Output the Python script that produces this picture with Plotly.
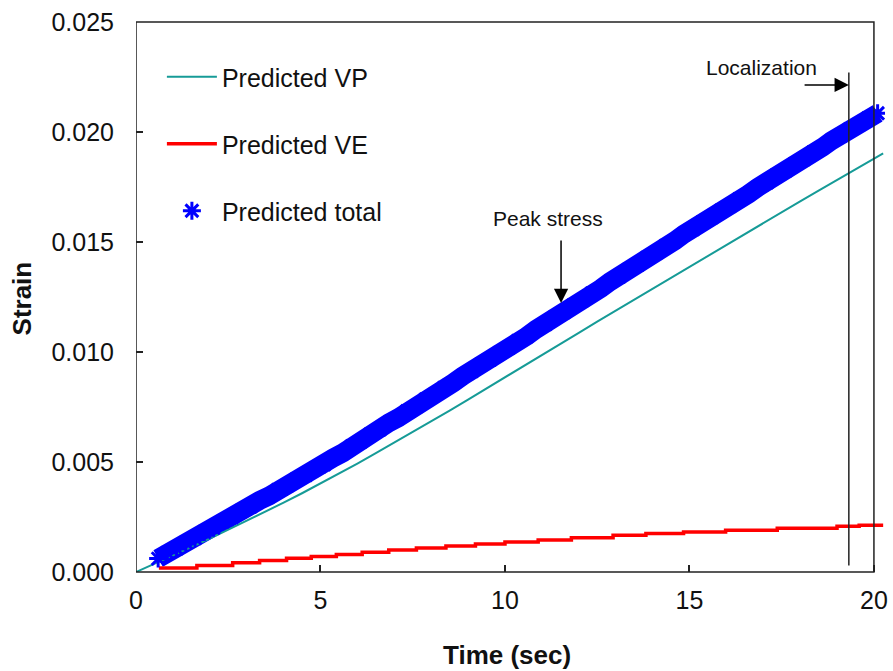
import plotly.graph_objects as go

# Predicted total strain (dense marker band)
total_time = [0.60, 0.85, 1.10, 1.35, 1.60, 1.85, 2.10, 2.35, 2.60, 2.85,
              3.10, 3.35, 3.60, 3.85, 4.10, 4.35, 4.60, 4.85, 5.10, 5.35,
              5.60, 5.85, 6.10, 6.35, 6.60, 6.85, 7.10, 7.35, 7.60, 7.85,
              8.10, 8.35, 8.60, 8.85, 9.10, 9.35, 9.60, 9.85, 10.10, 10.35,
              10.60, 10.85, 11.10, 11.35, 11.60, 11.85, 12.10, 12.35, 12.60, 12.85,
              13.10, 13.35, 13.60, 13.85, 14.10, 14.35, 14.60, 14.85, 15.10, 15.35,
              15.60, 15.85, 16.10, 16.35, 16.60, 16.85, 17.10, 17.35, 17.60, 17.85,
              18.10, 18.35, 18.60, 18.85, 19.10, 19.35, 19.60, 19.85, 20.10]
total_strain = [0.00061, 0.00087, 0.00106, 0.00134, 0.00154, 0.00182, 0.00201, 0.00229, 0.00249, 0.00277,
                0.00297, 0.00325, 0.00345, 0.00373, 0.00393, 0.00421, 0.00441, 0.00469, 0.00489, 0.00519,
                0.00541, 0.00572, 0.00594, 0.00625, 0.00647, 0.00678, 0.00700, 0.00731, 0.00753, 0.00784,
                0.00807, 0.00837, 0.00860, 0.00890, 0.00913, 0.00943, 0.00966, 0.00996, 0.01019, 0.01050,
                0.01073, 0.01104, 0.01127, 0.01158, 0.01181, 0.01212, 0.01235, 0.01266, 0.01289, 0.01320,
                0.01343, 0.01374, 0.01397, 0.01428, 0.01451, 0.01482, 0.01505, 0.01536, 0.01559, 0.01589,
                0.01612, 0.01642, 0.01665, 0.01695, 0.01718, 0.01748, 0.01771, 0.01801, 0.01824, 0.01854,
                0.01877, 0.01907, 0.01930, 0.01960, 0.01983, 0.02013, 0.02034, 0.02063, 0.02085]

# Predicted viscoplastic strain
vp_time = [0.0, 0.5, 1.0, 1.5, 2.0, 2.5, 3.0, 3.5, 4.0, 4.5,
           5.0, 5.5, 6.0, 6.5, 7.0, 7.5, 8.0, 8.5, 9.0, 9.5,
           10.0, 10.5, 11.0, 11.5, 12.0, 12.5, 13.0, 13.5, 14.0, 14.5,
           15.0, 15.5, 16.0, 16.5, 17.0, 17.5, 18.0, 18.5, 19.0, 19.5,
           20.0, 20.25]
vp_strain = [0.0, 0.00037, 0.00075, 0.00113, 0.00152, 0.00192, 0.00232, 0.00273, 0.00315, 0.00358,
             0.00402, 0.00447, 0.00493, 0.00540, 0.00588, 0.00636, 0.00685, 0.00734, 0.00784, 0.00834,
             0.00884, 0.00934, 0.00985, 0.01036, 0.01087, 0.01138, 0.01188, 0.01238, 0.01288, 0.01338,
             0.01388, 0.01438, 0.01488, 0.01538, 0.01587, 0.01636, 0.01685, 0.01734, 0.01783, 0.01831,
             0.01879, 0.01903]

# Predicted viscoelastic strain (stepped record)
ve_time = [0.62, 1.65, 2.62, 3.35, 4.08, 4.75, 5.43, 6.13, 6.85, 7.6,
           8.4, 9.2, 10.0, 10.9, 11.8, 12.93, 13.82, 14.84, 15.98, 17.38,
           19.0, 19.6, 20.25]
ve_strain = [0.00018, 0.00030, 0.00042, 0.00052, 0.00062, 0.00071, 0.00080, 0.00090, 0.00100, 0.00109,
             0.00118, 0.00127, 0.00136, 0.00145, 0.00156, 0.00167, 0.00175, 0.00182, 0.00190, 0.00199,
             0.00208, 0.00212, 0.00212]

x_ticks = [0, 5, 10, 15, 20]
y_ticks = [0.000, 0.005, 0.010, 0.015, 0.020, 0.025]
y_tick_text = ["0.000", "0.005", "0.010", "0.015", "0.020", "0.025"]

peak_stress_time = 11.52
localization_time = 19.32

FONT = "Liberation Sans, Arial, sans-serif"
BLUE = "#0000ff"
TEAL = "#169b97"
RED = "#ff0000"

W, H = 893, 671
L, R, T, B = 136, 5, 22, 99
pw, ph = W - L - R, H - T - B


def px_x(p):
    return (p - L) / pw


def px_y(p):
    return (H - B - p) / ph


fig = go.Figure()

# solid body of the total-strain band
fig.add_trace(go.Scatter(x=total_time, y=total_strain, mode="lines",
                         line=dict(color=BLUE, width=19), showlegend=False,
                         hoverinfo="skip", legendgroup="c"))
fig.add_trace(go.Scatter(x=vp_time, y=vp_strain, mode="lines", name="Predicted VP",
                         line=dict(color=TEAL, width=2), legendgroup="a"))
fig.add_trace(go.Scatter(x=ve_time, y=ve_strain, mode="lines", name="Predicted VE",
                         line=dict(color=RED, width=3.5, shape="hv"), legendgroup="b"))
fig.add_trace(go.Scatter(x=total_time, y=total_strain, mode="markers", name="Predicted total",
                         marker=dict(symbol="asterisk-open", size=15, color=BLUE,
                                     line=dict(color=BLUE, width=3)),
                         legendgroup="c"))

# plot frame ends at t = 20 while the records run slightly past it
fig.add_shape(type="rect", xref="x", yref="paper", x0=0, x1=20, y0=0, y1=1,
              line=dict(color="#222", width=1.5), fillcolor="rgba(0,0,0,0)")

# localization marker
fig.add_shape(type="line", xref="x", yref="y", x0=localization_time, x1=localization_time,
              y0=0.0003, y1=0.0227, line=dict(color="#222", width=1.5))
fig.add_annotation(x=localization_time, y=0.02214, ax=18.08, ay=0.02214,
                   xref="x", yref="y", axref="x", ayref="y", text="",
                   showarrow=True, arrowhead=2, arrowsize=1.9, arrowwidth=1.5,
                   arrowcolor="black")
fig.add_annotation(x=16.95, y=0.02291, xref="x", yref="y", text="Localization",
                   showarrow=False, font=dict(family=FONT, size=21, color="#111"))

# peak stress marker
fig.add_annotation(x=peak_stress_time, y=0.01223, ax=peak_stress_time, ay=0.01514,
                   xref="x", yref="y", axref="x", ayref="y", text="",
                   showarrow=True, arrowhead=2, arrowsize=1.9, arrowwidth=1.5,
                   arrowcolor="black")
fig.add_annotation(x=11.17, y=0.01609, xref="x", yref="y", text="Peak stress",
                   showarrow=False, font=dict(family=FONT, size=21, color="#111"))

# axis titles
fig.add_annotation(x=px_x(22), y=px_y(298), xref="paper", yref="paper",
                   xanchor="center", yanchor="middle", text="<b>Strain</b>",
                   showarrow=False, textangle=-90, font=dict(family=FONT, size=26, color="#111"))
fig.add_annotation(x=px_x(508), y=px_y(655), xref="paper", yref="paper",
                   xanchor="center", yanchor="middle", text="<b>Time (sec)</b>",
                   showarrow=False, font=dict(family=FONT, size=26, color="#111"))

fig.update_layout(
    width=W, height=H,
    margin=dict(l=L, r=R, t=T, b=B),
    paper_bgcolor="white", plot_bgcolor="white",
    font=dict(family=FONT, size=25, color="#111"),
    showlegend=True,
    legend=dict(x=px_x(162), y=px_y(54), xanchor="left", yanchor="top",
                bgcolor="rgba(0,0,0,0)", font=dict(family=FONT, size=25, color="#111"),
                tracegroupgap=31.5, traceorder="grouped", itemwidth=50),
    xaxis=dict(range=[0, 20.3], tickvals=x_ticks, ticktext=[str(v) for v in x_ticks],
               ticks="inside", ticklen=7, tickwidth=1.5, tickcolor="#222",
               showline=False, showgrid=False, zeroline=False,
               ticklabelstandoff=11),
    yaxis=dict(range=[0, 0.025], tickvals=y_ticks, ticktext=y_tick_text,
               ticks="inside", ticklen=7, tickwidth=1.5, tickcolor="#222",
               showline=False, showgrid=False, zeroline=False,
               ticklabelstandoff=21),
)

fig.write_html("out.html")
